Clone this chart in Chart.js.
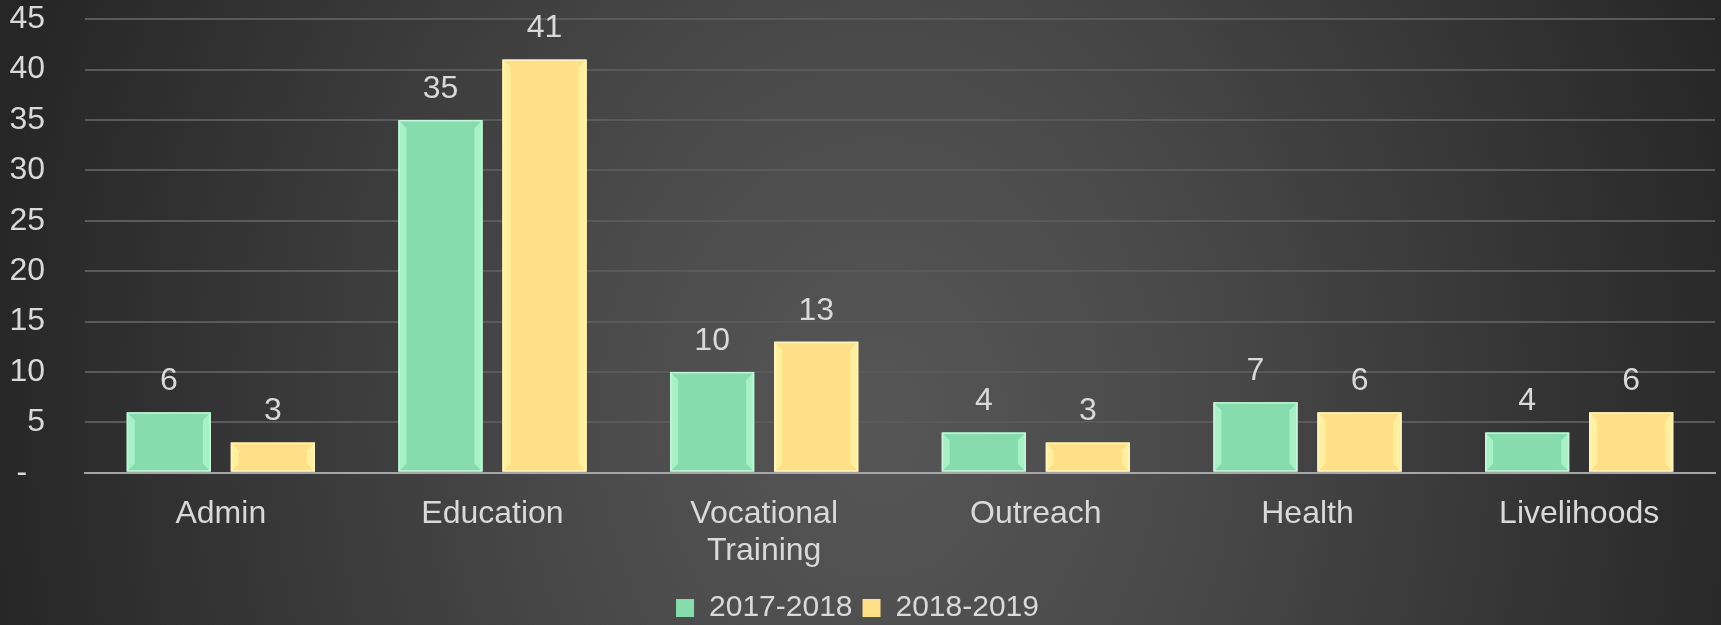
<!DOCTYPE html>
<html>
<head>
<meta charset="utf-8">
<script src="https://cdn.jsdelivr.net/npm/chart.js@4.4.1/dist/chart.umd.min.js"></script>
<style>
  html, body { margin: 0; padding: 0; }
  body {
    width: 1721px; height: 625px; overflow: hidden;
    background: radial-gradient(ellipse 950px 1200px at 880px 420px, #565656 0%, #4b4b4b 30%, #3a3a3a 60%, #262626 95%);
  }
  #wrap { position: relative; width: 1721px; height: 625px; }
  canvas { display: block; }
</style>
</head>
<body>
<div id="wrap"><canvas id="grafico" width="1721" height="625"></canvas></div>
<script>
// dados
const categorias = ["Admin", "Education", ["Vocational", "Training"], "Outreach", "Health", "Livelihoods"];
const serie2017 = [6, 35, 10, 4, 7, 4];
const serie2018 = [3, 41, 13, 3, 6, 6];
const nomesSeries = ["2017-2018", "2018-2019"];
const ticksY = [0, 5, 10, 15, 20, 25, 30, 35, 40, 45];

const FONTE = "'Liberation Sans', Arial, sans-serif";
const COR_TEXTO = "#d9d9d9";

/* =======================
   RÓTULOS DE VALOR + BISEL
======================= */
const rotulosPlugin = {
  id: "rotulos",
  afterDatasetsDraw(chart) {
    const ctx = chart.ctx;
    chart.data.datasets.forEach((ds, i) => {
      const meta = chart.getDatasetMeta(i);
      meta.data.forEach((bar, j) => {
        const { x, y, base, width } = bar.getProps(["x", "y", "base", "width"], true);
        const l = x - width / 2, r = x + width / 2;
        const b = Math.min(8, (base - y) / 2);
        ctx.save();
        // bisel esquerdo / direito
        ctx.fillStyle = ds.bevel;
        ctx.beginPath();
        ctx.moveTo(l, y); ctx.lineTo(l + b, y + b); ctx.lineTo(l + b, base - b); ctx.lineTo(l, base);
        ctx.closePath(); ctx.fill();
        ctx.beginPath();
        ctx.moveTo(r, y); ctx.lineTo(r - b, y + b); ctx.lineTo(r - b, base - b); ctx.lineTo(r, base);
        ctx.closePath(); ctx.fill();
        // borda
        ctx.strokeStyle = ds.edge;
        ctx.lineWidth = 1.5;
        ctx.strokeRect(l + 0.75, y + 0.75, width - 1.5, base - y - 1.5);
        // valor
        ctx.fillStyle = COR_TEXTO;
        ctx.font = "32px " + FONTE;
        ctx.textAlign = "center";
        ctx.textBaseline = "middle";
        ctx.fillText(String(ds.data[j]), x, y - 31);
        ctx.restore();
      });
    });
  }
};

const ctx = document.getElementById("grafico");

new Chart(ctx, {
  type: "bar",
  data: {
    labels: categorias,
    datasets: [
      {
        label: nomesSeries[0],
        data: serie2017,
        backgroundColor: "#86dcac",
        bevel: "#a8f0c8",
        edge: "#c4f5da",
        borderWidth: 0
      },
      {
        label: nomesSeries[1],
        data: serie2018,
        backgroundColor: "#ffdf88",
        bevel: "#fff0a0",
        edge: "#fff4c0",
        borderWidth: 0
      }
    ]
  },
  options: {
    responsive: false,
    animation: false,
    maintainAspectRatio: false,
    categoryPercentage: 0.766,
    barPercentage: 0.808,
    layout: { padding: { top: 7.5, right: 6, left: 0, bottom: -8 } },
    plugins: {
      legend: {
        position: "bottom",
        labels: {
          color: COR_TEXTO,
          font: { family: FONTE, size: 30 },
          boxWidth: 18,
          boxHeight: 18,
          padding: 10
        }
      },
      tooltip: { enabled: false }
    },
    scales: {
      x: {
        grid: { display: false },
        border: { display: true, color: "#a6a6a6", width: 2 },
        afterFit(axis) { axis.height = 110.3; },
        ticks: {
          color: COR_TEXTO,
          font: { family: FONTE, size: 32, lineHeight: 1.15 },
          padding: 15,
          maxRotation: 0,
          autoSkip: false
        }
      },
      y: {
        min: 0,
        max: 45,
        afterBuildTicks(axis) {
          axis.ticks = ticksY.map(v => ({ value: v }));
        },
        afterFit(axis) { axis.width = 85; },
        grid: { color: "#5a5a5a", lineWidth: 2, drawTicks: true, tickLength: 40, tickColor: "transparent" },
        border: { display: false },
        ticks: {
          color: COR_TEXTO,
          font: { family: FONTE, size: 32 },
          padding: 0,
          callback: v => (v === 0 ? "-  " : String(v))
        }
      }
    }
  },
  plugins: [rotulosPlugin]
});
</script>
</body>
</html>
